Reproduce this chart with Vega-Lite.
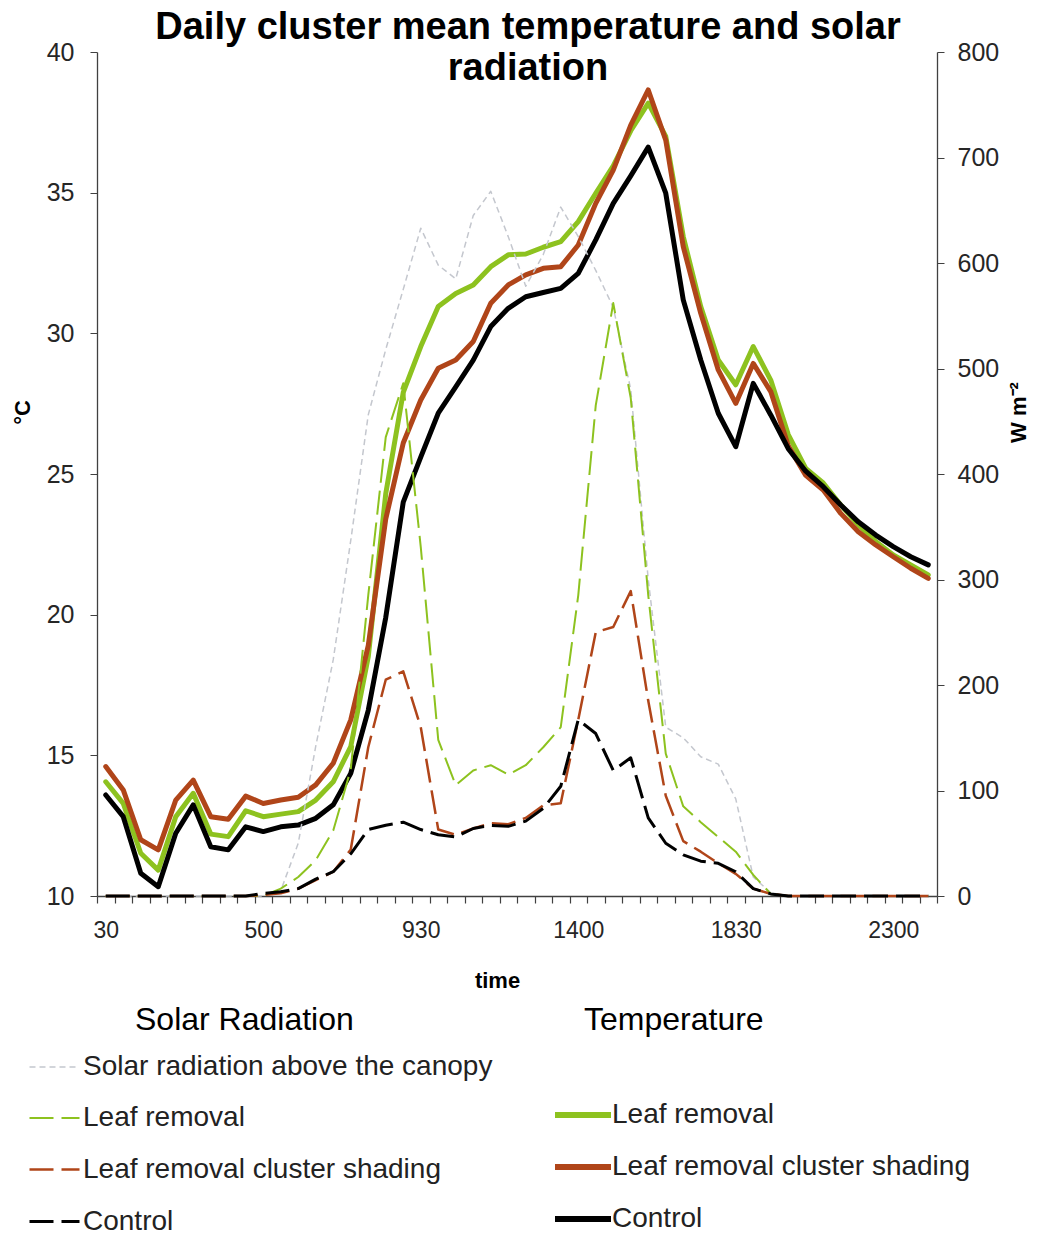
{
  "$schema": "https://vega.github.io/schema/vega-lite/v6.json",
  "width": 840,
  "height": 844,
  "autosize": "none",
  "padding": {"left": 97, "top": 52, "right": 104, "bottom": 340},
  "background": "white",
  "config": {"view": {"stroke": null}, "font": "Liberation Sans"},
  "title": {
    "text": ["Daily cluster mean temperature and solar", "radiation"],
    "fontSize": 38,
    "fontWeight": "bold",
    "font": "Liberation Sans",
    "color": "#000000",
    "lineHeight": 41,
    "anchor": "middle",
    "frame": "group",
    "baseline": "top",
    "offset": -48,
    "dx": 11
  },
  "datasets": {
    "temp": [
      {"time": 30, "Leaf removal": 14.06, "Leaf removal cluster shading": 14.6, "Control": 13.59},
      {"time": 100, "Leaf removal": 13.29, "Leaf removal cluster shading": 13.77, "Control": 12.82},
      {"time": 130, "Leaf removal": 11.52, "Leaf removal cluster shading": 12.0, "Control": 10.81},
      {"time": 200, "Leaf removal": 10.92, "Leaf removal cluster shading": 11.64, "Control": 10.33},
      {"time": 230, "Leaf removal": 12.82, "Leaf removal cluster shading": 13.41, "Control": 12.23},
      {"time": 300, "Leaf removal": 13.65, "Leaf removal cluster shading": 14.12, "Control": 13.24},
      {"time": 330, "Leaf removal": 12.2, "Leaf removal cluster shading": 12.82, "Control": 11.75},
      {"time": 400, "Leaf removal": 12.11, "Leaf removal cluster shading": 12.73, "Control": 11.64},
      {"time": 430, "Leaf removal": 13.03, "Leaf removal cluster shading": 13.55, "Control": 12.46},
      {"time": 500, "Leaf removal": 12.82, "Leaf removal cluster shading": 13.29, "Control": 12.29},
      {"time": 530, "Leaf removal": 12.91, "Leaf removal cluster shading": 13.41, "Control": 12.46},
      {"time": 600, "Leaf removal": 13.0, "Leaf removal cluster shading": 13.51, "Control": 12.52},
      {"time": 630, "Leaf removal": 13.41, "Leaf removal cluster shading": 13.95, "Control": 12.76},
      {"time": 700, "Leaf removal": 14.06, "Leaf removal cluster shading": 14.72, "Control": 13.24},
      {"time": 730, "Leaf removal": 15.31, "Leaf removal cluster shading": 16.26, "Control": 14.36},
      {"time": 800, "Leaf removal": 18.5, "Leaf removal cluster shading": 18.9, "Control": 16.6},
      {"time": 830, "Leaf removal": 24.3, "Leaf removal cluster shading": 23.4, "Control": 19.9},
      {"time": 900, "Leaf removal": 27.9, "Leaf removal cluster shading": 26.1, "Control": 24.0},
      {"time": 930, "Leaf removal": 29.53, "Leaf removal cluster shading": 27.63, "Control": 25.6},
      {"time": 1000, "Leaf removal": 30.95, "Leaf removal cluster shading": 28.76, "Control": 27.16},
      {"time": 1030, "Leaf removal": 31.42, "Leaf removal cluster shading": 29.05, "Control": 28.1},
      {"time": 1100, "Leaf removal": 31.72, "Leaf removal cluster shading": 29.71, "Control": 29.05},
      {"time": 1130, "Leaf removal": 32.37, "Leaf removal cluster shading": 31.07, "Control": 30.24},
      {"time": 1200, "Leaf removal": 32.79, "Leaf removal cluster shading": 31.72, "Control": 30.89},
      {"time": 1230, "Leaf removal": 32.82, "Leaf removal cluster shading": 32.08, "Control": 31.3},
      {"time": 1300, "Leaf removal": 33.06, "Leaf removal cluster shading": 32.31, "Control": 31.45},
      {"time": 1330, "Leaf removal": 33.26, "Leaf removal cluster shading": 32.37, "Control": 31.6},
      {"time": 1400, "Leaf removal": 33.97, "Leaf removal cluster shading": 33.14, "Control": 32.13},
      {"time": 1430, "Leaf removal": 34.98, "Leaf removal cluster shading": 34.62, "Control": 33.32},
      {"time": 1500, "Leaf removal": 35.95, "Leaf removal cluster shading": 35.8, "Control": 34.62},
      {"time": 1530, "Leaf removal": 37.2, "Leaf removal cluster shading": 37.4, "Control": 35.6},
      {"time": 1600, "Leaf removal": 38.18, "Leaf removal cluster shading": 38.65, "Control": 36.62},
      {"time": 1630, "Leaf removal": 37.0, "Leaf removal cluster shading": 36.87, "Control": 34.98},
      {"time": 1700, "Leaf removal": 33.44, "Leaf removal cluster shading": 33.08, "Control": 31.19},
      {"time": 1730, "Leaf removal": 30.95, "Leaf removal cluster shading": 30.71, "Control": 29.05},
      {"time": 1800, "Leaf removal": 29.05, "Leaf removal cluster shading": 28.7, "Control": 27.16},
      {"time": 1830, "Leaf removal": 28.17, "Leaf removal cluster shading": 27.51, "Control": 25.97},
      {"time": 1900, "Leaf removal": 29.53, "Leaf removal cluster shading": 28.93, "Control": 28.22},
      {"time": 1930, "Leaf removal": 28.34, "Leaf removal cluster shading": 27.93, "Control": 27.1},
      {"time": 2000, "Leaf removal": 26.4, "Leaf removal cluster shading": 26.0, "Control": 25.9},
      {"time": 2030, "Leaf removal": 25.2, "Leaf removal cluster shading": 24.95, "Control": 25.1},
      {"time": 2100, "Leaf removal": 24.68, "Leaf removal cluster shading": 24.43, "Control": 24.55},
      {"time": 2130, "Leaf removal": 23.9, "Leaf removal cluster shading": 23.6, "Control": 23.9},
      {"time": 2200, "Leaf removal": 23.19, "Leaf removal cluster shading": 22.95, "Control": 23.3},
      {"time": 2230, "Leaf removal": 22.6, "Leaf removal cluster shading": 22.48, "Control": 22.83},
      {"time": 2300, "Leaf removal": 22.12, "Leaf removal cluster shading": 22.06, "Control": 22.42},
      {"time": 2330, "Leaf removal": 21.77, "Leaf removal cluster shading": 21.65, "Control": 22.06},
      {"time": 2400, "Leaf removal": 21.41, "Leaf removal cluster shading": 21.29, "Control": 21.77}
    ],
    "rad": [
      {"time": 30, "Solar radiation above the canopy": 0, "Leaf removal": 0, "Leaf removal cluster shading": 0, "Control": 0},
      {"time": 100, "Solar radiation above the canopy": 0, "Leaf removal": 0, "Leaf removal cluster shading": 0, "Control": 0},
      {"time": 130, "Solar radiation above the canopy": 0, "Leaf removal": 0, "Leaf removal cluster shading": 0, "Control": 0},
      {"time": 200, "Solar radiation above the canopy": 0, "Leaf removal": 0, "Leaf removal cluster shading": 0, "Control": 0},
      {"time": 230, "Solar radiation above the canopy": 0, "Leaf removal": 0, "Leaf removal cluster shading": 0, "Control": 0},
      {"time": 300, "Solar radiation above the canopy": 0, "Leaf removal": 0, "Leaf removal cluster shading": 0, "Control": 0},
      {"time": 330, "Solar radiation above the canopy": 0, "Leaf removal": 0, "Leaf removal cluster shading": 0, "Control": 0},
      {"time": 400, "Solar radiation above the canopy": 0, "Leaf removal": 0, "Leaf removal cluster shading": 0, "Control": 0},
      {"time": 430, "Solar radiation above the canopy": 0, "Leaf removal": 0, "Leaf removal cluster shading": 0, "Control": 0},
      {"time": 500, "Solar radiation above the canopy": 0, "Leaf removal": 0, "Leaf removal cluster shading": 1, "Control": 2.5},
      {"time": 530, "Solar radiation above the canopy": 5, "Leaf removal": 7, "Leaf removal cluster shading": 2.5, "Control": 4},
      {"time": 600, "Solar radiation above the canopy": 50, "Leaf removal": 18, "Leaf removal cluster shading": 7, "Control": 7},
      {"time": 630, "Solar radiation above the canopy": 142, "Leaf removal": 34, "Leaf removal cluster shading": 15, "Control": 16},
      {"time": 700, "Solar radiation above the canopy": 224, "Leaf removal": 62, "Leaf removal cluster shading": 23, "Control": 23},
      {"time": 730, "Solar radiation above the canopy": 337, "Leaf removal": 120, "Leaf removal cluster shading": 44, "Control": 40},
      {"time": 800, "Solar radiation above the canopy": 456, "Leaf removal": 285, "Leaf removal cluster shading": 141, "Control": 63},
      {"time": 830, "Solar radiation above the canopy": 518, "Leaf removal": 435, "Leaf removal cluster shading": 205, "Control": 67},
      {"time": 900, "Solar radiation above the canopy": 575, "Leaf removal": 486, "Leaf removal cluster shading": 213, "Control": 70},
      {"time": 930, "Solar radiation above the canopy": 633, "Leaf removal": 331, "Leaf removal cluster shading": 160, "Control": 63},
      {"time": 1000, "Solar radiation above the canopy": 598, "Leaf removal": 148, "Leaf removal cluster shading": 63, "Control": 58},
      {"time": 1030, "Solar radiation above the canopy": 585, "Leaf removal": 105, "Leaf removal cluster shading": 58, "Control": 56},
      {"time": 1100, "Solar radiation above the canopy": 645, "Leaf removal": 119, "Leaf removal cluster shading": 64, "Control": 64},
      {"time": 1130, "Solar radiation above the canopy": 668, "Leaf removal": 124, "Leaf removal cluster shading": 69, "Control": 67},
      {"time": 1200, "Solar radiation above the canopy": 625, "Leaf removal": 115, "Leaf removal cluster shading": 68, "Control": 66},
      {"time": 1230, "Solar radiation above the canopy": 578, "Leaf removal": 124, "Leaf removal cluster shading": 74, "Control": 71},
      {"time": 1300, "Solar radiation above the canopy": 608, "Leaf removal": 141, "Leaf removal cluster shading": 86, "Control": 83},
      {"time": 1330, "Solar radiation above the canopy": 653, "Leaf removal": 160, "Leaf removal cluster shading": 88, "Control": 104},
      {"time": 1400, "Solar radiation above the canopy": 625, "Leaf removal": 285, "Leaf removal cluster shading": 167, "Control": 167},
      {"time": 1430, "Solar radiation above the canopy": 593, "Leaf removal": 465, "Leaf removal cluster shading": 250, "Control": 154},
      {"time": 1500, "Solar radiation above the canopy": 558, "Leaf removal": 562, "Leaf removal cluster shading": 255, "Control": 119},
      {"time": 1530, "Solar radiation above the canopy": 480, "Leaf removal": 472, "Leaf removal cluster shading": 289, "Control": 131},
      {"time": 1600, "Solar radiation above the canopy": 300, "Leaf removal": 285, "Leaf removal cluster shading": 185, "Control": 74},
      {"time": 1630, "Solar radiation above the canopy": 160, "Leaf removal": 135, "Leaf removal cluster shading": 95, "Control": 50},
      {"time": 1700, "Solar radiation above the canopy": 150, "Leaf removal": 85, "Leaf removal cluster shading": 52, "Control": 39},
      {"time": 1730, "Solar radiation above the canopy": 132, "Leaf removal": 70, "Leaf removal cluster shading": 42, "Control": 33},
      {"time": 1800, "Solar radiation above the canopy": 125, "Leaf removal": 56, "Leaf removal cluster shading": 31, "Control": 31},
      {"time": 1830, "Solar radiation above the canopy": 92, "Leaf removal": 42, "Leaf removal cluster shading": 21, "Control": 23},
      {"time": 1900, "Solar radiation above the canopy": 18, "Leaf removal": 20, "Leaf removal cluster shading": 7, "Control": 7},
      {"time": 1930, "Solar radiation above the canopy": 3, "Leaf removal": 2, "Leaf removal cluster shading": 2, "Control": 2},
      {"time": 2000, "Solar radiation above the canopy": 0, "Leaf removal": 0, "Leaf removal cluster shading": 0, "Control": 0},
      {"time": 2030, "Solar radiation above the canopy": 0, "Leaf removal": 0, "Leaf removal cluster shading": 0, "Control": 0},
      {"time": 2100, "Solar radiation above the canopy": 0, "Leaf removal": 0, "Leaf removal cluster shading": 0, "Control": 0},
      {"time": 2130, "Solar radiation above the canopy": 0, "Leaf removal": 0, "Leaf removal cluster shading": 0, "Control": 0},
      {"time": 2200, "Solar radiation above the canopy": 0, "Leaf removal": 0, "Leaf removal cluster shading": 0, "Control": 0},
      {"time": 2230, "Solar radiation above the canopy": 0, "Leaf removal": 0, "Leaf removal cluster shading": 0, "Control": 0},
      {"time": 2300, "Solar radiation above the canopy": 0, "Leaf removal": 0, "Leaf removal cluster shading": 0, "Control": 0},
      {"time": 2330, "Solar radiation above the canopy": 0, "Leaf removal": 0, "Leaf removal cluster shading": 0, "Control": 0},
      {"time": 2400, "Solar radiation above the canopy": 0, "Leaf removal": 0, "Leaf removal cluster shading": 0, "Control": 0}
    ]
  },
  "encoding": {
    "x": {
      "field": "time",
      "type": "ordinal",
      "bandPosition": 0.5,
      "scale": {"type": "band", "paddingInner": 0, "paddingOuter": 0},
      "axis": {
        "title": "time",
        "labelExpr": "(datum.value == 30 || datum.value == 500 || datum.value == 930 || datum.value == 1400 || datum.value == 1830 || datum.value == 2300) ? datum.label : ''",
        "tickBand": "extent",
        "tickSize": 7,
        "tickColor": "#404040",
        "domainColor": "#404040",
        "domainWidth": 1.3,
        "tickWidth": 1.2,
        "labelAngle": 0,
        "labelOverlap": false,
        "labelFontSize": 23,
        "labelColor": "#262626",
        "labelPadding": 16,
        "titleFontSize": 22,
        "titleFontWeight": "bold",
        "titleColor": "#000000",
        "titleX": 400,
        "titleY": 84,
        "titleBaseline": "middle",
        "grid": false
      }
    }
  },
  "layer": [
    {
      "data": {"name": "temp"},
      "transform": [
        {"fold": ["Leaf removal", "Leaf removal cluster shading", "Control"], "as": ["series", "value"]}
      ],
      "mark": {"type": "line", "strokeWidth": 5, "strokeJoin": "round", "strokeCap": "round"},
      "encoding": {
        "y": {
          "field": "value",
          "type": "quantitative",
          "scale": {"domain": [10, 40], "nice": false, "zero": false},
          "axis": {
            "orient": "left",
            "title": "°C",
            "values": [10, 15, 20, 25, 30, 35, 40],
            "tickSize": 7,
            "tickColor": "#404040",
            "domainColor": "#404040",
            "domainWidth": 1.3,
            "labelFontSize": 25,
            "labelColor": "#262626",
            "labelPadding": 16,
            "titleFontSize": 22,
            "titleFontWeight": "bold",
            "titleColor": "#000000",
            "titleAngle": -90,
            "titleX": -75,
            "titleY": 360,
            "titleAlign": "center",
            "titleBaseline": "middle",
            "grid": false
          }
        },
        "color": {
          "field": "series",
          "type": "nominal",
          "scale": {
            "domain": ["Leaf removal", "Leaf removal cluster shading", "Control"],
            "range": ["#8dc21f", "#b04519", "#000000"]
          },
          "legend": {
            "title": "Temperature",
            "orient": "none",
            "legendX": 455,
            "legendY": 953,
            "titleAnchor": "start",
            "titleLimit": 1000,
            "titleFontSize": 32,
            "titleFontWeight": "normal",
            "titleColor": "#000000",
            "titlePadding": 47,
            "symbolType": "stroke",
            "symbolSize": 3136,
            "symbolStrokeWidth": 6,
            "labelFontSize": 28,
            "labelColor": "#222222",
            "labelOffset": -2,
            "labelLimit": 0,
            "rowPadding": 7,
            "encoding": {"title": {"dx": {"value": 32}}}
          }
        }
      }
    },
    {
      "data": {"name": "rad"},
      "transform": [
        {"fold": ["Solar radiation above the canopy", "Leaf removal", "Leaf removal cluster shading", "Control"], "as": ["series", "value"]}
      ],
      "mark": {"type": "line", "strokeJoin": "round"},
      "encoding": {
        "y": {
          "field": "value",
          "type": "quantitative",
          "scale": {"domain": [0, 800], "nice": false},
          "axis": {
            "orient": "right",
            "title": "W m⁻²",
            "values": [0, 100, 200, 300, 400, 500, 600, 700, 800],
            "tickSize": 7,
            "tickColor": "#404040",
            "domainColor": "#404040",
            "domainWidth": 1.3,
            "labelFontSize": 25,
            "labelColor": "#262626",
            "labelPadding": 13,
            "titleFontSize": 22,
            "titleFontWeight": "bold",
            "titleColor": "#000000",
            "titleAngle": -90,
            "titleX": 81,
            "titleY": 360,
            "titleAlign": "center",
            "titleBaseline": "middle",
            "grid": false
          }
        },
        "color": {
          "field": "series",
          "type": "nominal",
          "scale": {
            "domain": ["Solar radiation above the canopy", "Leaf removal", "Leaf removal cluster shading", "Control"],
            "range": ["#c4c7ce", "#8dc21f", "#b04519", "#000000"]
          },
          "legend": {
            "title": "Solar Radiation",
            "orient": "none",
            "legendX": -69,
            "legendY": 953,
            "titleAnchor": "start",
            "titleLimit": 1000,
            "titleFontSize": 32,
            "titleFontWeight": "normal",
            "titleColor": "#000000",
            "titlePadding": 4,
            "symbolType": "stroke",
            "symbolSize": 2500,
            "labelFontSize": 28,
            "labelColor": "#222222",
            "labelOffset": 2,
            "labelLimit": 0,
            "rowPadding": 11,
            "encoding": {"title": {"dx": {"value": 107}}}
          }
        },
        "strokeDash": {
          "field": "series",
          "type": "nominal",
          "scale": {
            "domain": ["Solar radiation above the canopy", "Leaf removal", "Leaf removal cluster shading", "Control"],
            "range": [[6, 4], [24, 8], [24, 8], [24, 8]]
          },
          "legend": {
            "title": "Solar Radiation",
            "orient": "none",
            "legendX": -69,
            "legendY": 953
          }
        },
        "strokeWidth": {
          "field": "series",
          "type": "nominal",
          "scale": {
            "domain": ["Solar radiation above the canopy", "Leaf removal", "Leaf removal cluster shading", "Control"],
            "range": [1.5, 3, 3, 2.5]
          },
          "legend": {
            "title": "Solar Radiation",
            "orient": "none",
            "legendX": -69,
            "legendY": 953
          }
        }
      }
    }
  ],
  "resolve": {
    "scale": {"y": "independent", "color": "independent", "strokeDash": "independent", "strokeWidth": "independent"}
  }
}
